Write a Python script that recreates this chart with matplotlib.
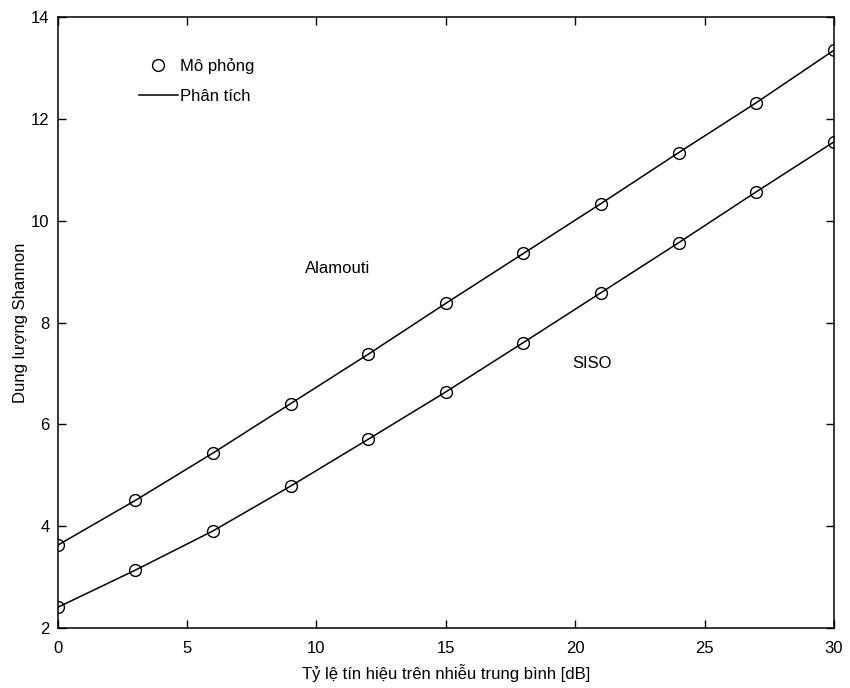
import matplotlib
matplotlib.use("Agg")
import matplotlib.pyplot as plt
import numpy as np

plt.rcParams['font.family'] = ['Liberation Sans', 'DejaVu Sans']

# SNR trung binh [dB]
snr_db = [0, 3, 6, 9, 12, 15, 18, 21, 24, 27, 30]

# Dung luong Shannon doc tu hinh
alamouti = [3.63, 4.51, 5.44, 6.41, 7.38, 8.38, 9.36, 10.34, 11.34, 12.32, 13.35]
siso = [2.41, 3.14, 3.91, 4.79, 5.71, 6.64, 7.61, 8.59, 9.57, 10.57, 11.55]

x_ticks = [0, 5, 10, 15, 20, 25, 30]
y_ticks = [2, 4, 6, 8, 10, 12, 14]

fs = 12

fig = plt.figure(figsize=(8.5, 6.88), dpi=100)
ax = fig.add_axes([0.068, 0.087, 0.913, 0.888])

# mo phong (chi diem) va phan tich (duong)
for y in [alamouti, siso]:
    ax.plot(snr_db, y, color='black', linewidth=1.1)
    ax.plot(snr_db, y, linestyle='none', marker='o', markersize=8.5,
            markerfacecolor='none', markeredgecolor='black', markeredgewidth=1.0)

# legend handles
h_sim, = ax.plot([], [], linestyle='none', marker='o', markersize=8.5,
                 markerfacecolor='none', markeredgecolor='black', markeredgewidth=1.0)
h_ana, = ax.plot([], [], color='black', linewidth=1.1)
ax.legend([h_sim, h_ana], ['Mô phỏng', 'Phân tích'], loc='upper left',
          bbox_to_anchor=(0.085, 0.958), frameon=False, fontsize=fs,
          handlelength=2.35, handletextpad=0.15, labelspacing=0.9)

ax.text(9.55, 9.07, 'Alamouti', fontsize=fs, va='center', ha='left')
ax.text(19.9, 7.2, 'SISO', fontsize=fs, va='center', ha='left')

ax.set_xlim(0, 30)
ax.set_ylim(2, 14)
ax.set_xticks(x_ticks)
ax.set_yticks(y_ticks)
ax.tick_params(direction='in', top=True, right=True, labelsize=fs, length=6, width=1)
ax.tick_params(axis='x', pad=9)
ax.tick_params(axis='y', pad=6)
for s in ax.spines.values():
    s.set_linewidth(1.1)

ax.set_xlabel('Tỷ lệ tín hiệu trên nhiễu trung bình [dB]', fontsize=fs, labelpad=6)
ax.set_ylabel('Dung lượng Shannon', fontsize=fs, labelpad=2)

fig.savefig('out.png', dpi=100)
